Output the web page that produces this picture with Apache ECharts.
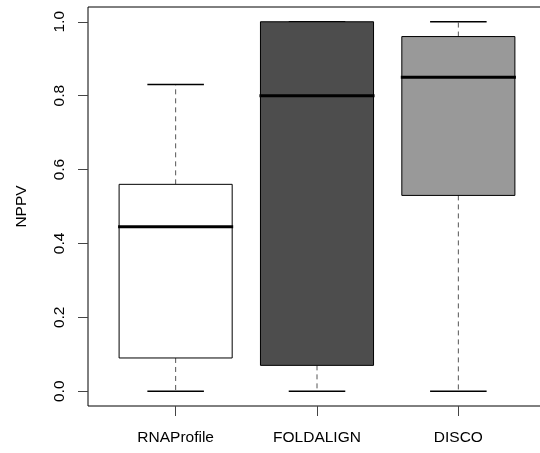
<!DOCTYPE html>
<html>
<head>
<meta charset="utf-8">
<script src="https://cdn.jsdelivr.net/npm/echarts@6/dist/echarts.min.js"></script>
<style>
	html, body { margin: 0; padding: 0; background: #fff; }
	#main { width: 540px; height: 453px; }
</style>
</head>
<body>
<div id="main"></div>
<script>
// boxplot stats
var categories = ['RNAProfile', 'FOLDALIGN', 'DISCO'];
var mins = [0, 0, 0];
var q1s = [0.09, 0.07, 0.53];
var medians = [0.445, 0.80, 0.85];
var q3s = [0.56, 1.0, 0.96];
var maxs = [0.83, 1.0, 1.0];
var yTicks = [0, 0.2, 0.4, 0.6, 0.8, 1.0];
var fills = ['#ffffff', '#4d4d4d', '#999999'];

var boxData = [];
for (var i = 0; i < categories.length; i++) {
	boxData.push([i + 1, mins[i], q1s[i], medians[i], q3s[i], maxs[i]]);
}

var font = 'Liberation Sans, Arial, Helvetica, sans-serif';

var myChart = echarts.init(document.getElementById('main'));
var option = {
	animation: false,
	grid: {
		left: 88,
		top: 7,
		width: 458,
		height: 399,
		outerBoundsMode: 'none',
		containLabel: false,
		show: true,
		borderColor: '#000',
		borderWidth: 1,
		backgroundColor: 'transparent'
	},
	xAxis: {
		type: 'value',
		min: 0.38,
		max: 3.62,
		splitLine: { show: false },
		axisLine: { show: false, onZero: false },
		axisTick: {
			show: true,
			length: 10,
			customValues: [1, 2, 3],
			lineStyle: { color: '#444', width: 1 }
		},
		axisLabel: {
			customValues: [1, 2, 3],
			margin: 24,
			fontSize: 15.5,
			fontFamily: font,
			color: '#000',
			formatter: function (v) {
				return categories[Math.round(v) - 1] || '';
			}
		}
	},
	yAxis: {
		type: 'value',
		min: -0.04,
		max: 1.04,
		name: 'NPPV',
		nameLocation: 'middle',
		nameGap: 58,
		nameRotate: 90,
		nameTextStyle: { fontSize: 15.5, fontFamily: font, color: '#000' },
		splitLine: { show: false },
		axisLine: { show: false, onZero: false },
		axisTick: {
			show: true,
			length: 10,
			customValues: yTicks,
			lineStyle: { color: '#444', width: 1 }
		},
		axisLabel: {
			customValues: yTicks,
			rotate: 90,
			margin: 20,
			fontSize: 15.5,
			fontFamily: font,
			color: '#000',
			formatter: function (v) { return v.toFixed(1); }
		}
	},
	series: [{
		type: 'custom',
		data: boxData,
		renderItem: function (params, api) {
			var x = api.value(0);
			var idx = params.dataIndex;
			var pMin = api.coord([x, api.value(1)]);
			var pQ1 = api.coord([x, api.value(2)]);
			var pMed = api.coord([x, api.value(3)]);
			var pQ3 = api.coord([x, api.value(4)]);
			var pMax = api.coord([x, api.value(5)]);
			var boxL = api.coord([x - 0.4, 0])[0];
			var boxR = api.coord([x + 0.4, 0])[0];
			var capL = api.coord([x - 0.2, 0])[0];
			var capR = api.coord([x + 0.2, 0])[0];
			var cx = pMed[0];
			var dash = { stroke: '#555', lineWidth: 1, lineDash: [5, 4] };
			var solid = { stroke: '#000', lineWidth: 1.5 };
			return {
				type: 'group',
				children: [
					// whiskers
					{ type: 'line', shape: { x1: cx, y1: pQ3[1], x2: cx, y2: pMax[1] }, style: dash },
					{ type: 'line', shape: { x1: cx, y1: pQ1[1], x2: cx, y2: pMin[1] }, style: dash },
					// caps
					{ type: 'line', shape: { x1: capL, y1: pMax[1], x2: capR, y2: pMax[1] }, style: solid },
					{ type: 'line', shape: { x1: capL, y1: pMin[1], x2: capR, y2: pMin[1] }, style: solid },
					// box
					{
						type: 'rect',
						shape: { x: boxL, y: pQ3[1], width: boxR - boxL, height: pQ1[1] - pQ3[1] },
						style: { fill: fills[idx], stroke: '#000', lineWidth: 1 }
					},
					// median
					{ type: 'line', shape: { x1: boxL - 1, y1: pMed[1], x2: boxR + 1, y2: pMed[1] }, style: { stroke: '#000', lineWidth: 3 } }
				]
			};
		}
	}]
};
myChart.setOption(option);
</script>
</body>
</html>
